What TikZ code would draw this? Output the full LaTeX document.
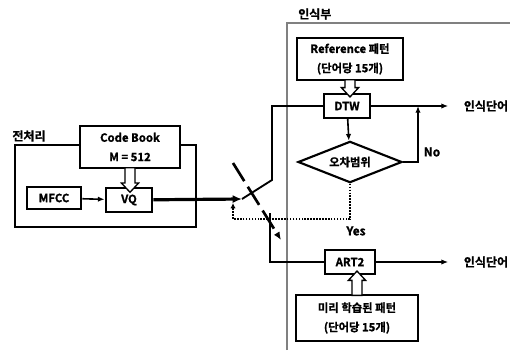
\documentclass[tikz,border=0pt]{standalone}
\usepackage{fontspec}
\setmainfont{Noto Sans CJK KR}[BoldFont={Noto Sans CJK KR Bold},BoldFeatures={FakeBold=1.2}]
\usetikzlibrary{arrows.meta,shapes.geometric,calc}

\tikzset{
  blk/.style={draw,line width=1.6pt,fill=white,align=center,inner sep=1pt,
    font=\bfseries\fontsize{8.5}{10.5}\selectfont},
  lbl/.style={font=\bfseries\fontsize{9}{10}\selectfont,inner sep=0pt},
  wire/.style={line width=1.2pt,-{Latex[length=5pt,width=4pt]}},
  % 속이 빈 화살표 (아래로 / 위로)
  hdown/.style={draw,line width=1pt,fill=white,
    to path={let \p1=(\tikztostart),\p2=(\tikztotarget) in
      (\x1-3.8pt,\y1) -- (\x1-3.8pt,\y2+7pt) -- (\x1-6.5pt,\y2+7pt) -- (\x1,\y2)
      -- (\x1+6.5pt,\y2+7pt) -- (\x1+3.8pt,\y2+7pt) -- (\x1+3.8pt,\y1) -- cycle}},
  hup/.style={draw,line width=1pt,fill=white,
    to path={let \p1=(\tikztostart),\p2=(\tikztotarget) in
      (\x1-3.8pt,\y1) -- (\x1-3.8pt,\y2-7pt) -- (\x1-6.5pt,\y2-7pt) -- (\x1,\y2)
      -- (\x1+6.5pt,\y2-7pt) -- (\x1+3.8pt,\y2-7pt) -- (\x1+3.8pt,\y1) -- cycle}}
}

\begin{document}
\begin{tikzpicture}[x=0.75pt,y=-0.75pt]
  \useasboundingbox (0,0) rectangle (510,350);

  % 전처리
  \node[lbl] (prelbl) at (29,136) {전처리};
  \draw[line width=1pt] (15,145) rectangle (196,227);
  \node[blk,minimum width=75pt,minimum height=31pt] (cb) at (130,147) {Code Book\\[4pt]M = 512};
  \node[blk,minimum width=41pt,minimum height=16pt] (mfcc) at (54,198) {MFCC};
  \node[blk,minimum width=35pt,minimum height=18pt] (vq) at (129,200) {VQ};
  \draw[wire] (mfcc) -- (vq);
  \path[hdown] ([yshift=0.8pt]cb.south) to ([yshift=-4pt]vq.north);

  % 인식부
  \node[lbl,anchor=west] (reclbl) at (298,14) {인식부};
  \draw[gray,line width=0.8pt] (287,350) -- (287,23) -- (510,23);
  \node[blk,minimum width=79pt,minimum height=31pt] (ref) at (350,59) {Reference 패턴\\[4pt](단어당 15개)};
  \node[blk,minimum width=34pt,minimum height=18pt] (dtw) at (347,106) {DTW};
  \node[blk,diamond,aspect=2.6,minimum width=78pt,minimum height=31pt,inner sep=0pt] (err) at (350,162) {오차범위};
  \node[blk,minimum width=38pt,minimum height=18pt] (art) at (350,262) {ART2};
  \node[blk,minimum width=91pt,minimum height=34pt] (pre) at (357,318) {미리 학습된 패턴\\[4pt](단어당 15개)};
  \path[hdown] ([yshift=0.8pt]ref.south) to ([yshift=-3pt]dtw.north);
  \path[hup] ([yshift=-0.8pt]pre.north) to ([yshift=3pt]art.south);

  % 출력
  \node[lbl] (out1) at (486,106) {인식단어};
  \node[lbl] (out2) at (486,262) {인식단어};
  \coordinate (o1) at (448,106);
  \coordinate (o2) at (448,262);
  \draw[wire,line width=0.8pt] (dtw) -- (o1);
  \draw[wire,line width=0.8pt] (art) -- (o2);
  \draw[wire] (dtw) -- (err);
  \draw[wire] (err.east) -- (418,162) -- (418,106);
  \node[lbl] (no) at (432,152) {No};
  \node[lbl] (yes) at (356,231) {Yes};

  % 스위치
  \coordinate (sw) at (242,199);
  \draw[line width=2.4pt,-{Latex[length=7pt,width=6pt]}] (vq) -- (sw);
  \draw[line width=1.4pt] (sw) -- (272,180) -- (272,106) -- (dtw.west);
  \draw[line width=1.2pt] (270,213) -- (270,262) -- (art.west);
  \draw[line width=1.2pt,densely dotted,-{Latex[length=4pt,width=4pt]}]
    (err.south) -- (350,219) -- (233,219) -- (233,203);
  \draw[line width=2pt,dash pattern=on 16pt off 5pt,-{Latex[length=6pt,width=5pt]}]
    (233,163) -- (281,240);
\end{tikzpicture}
\end{document}
